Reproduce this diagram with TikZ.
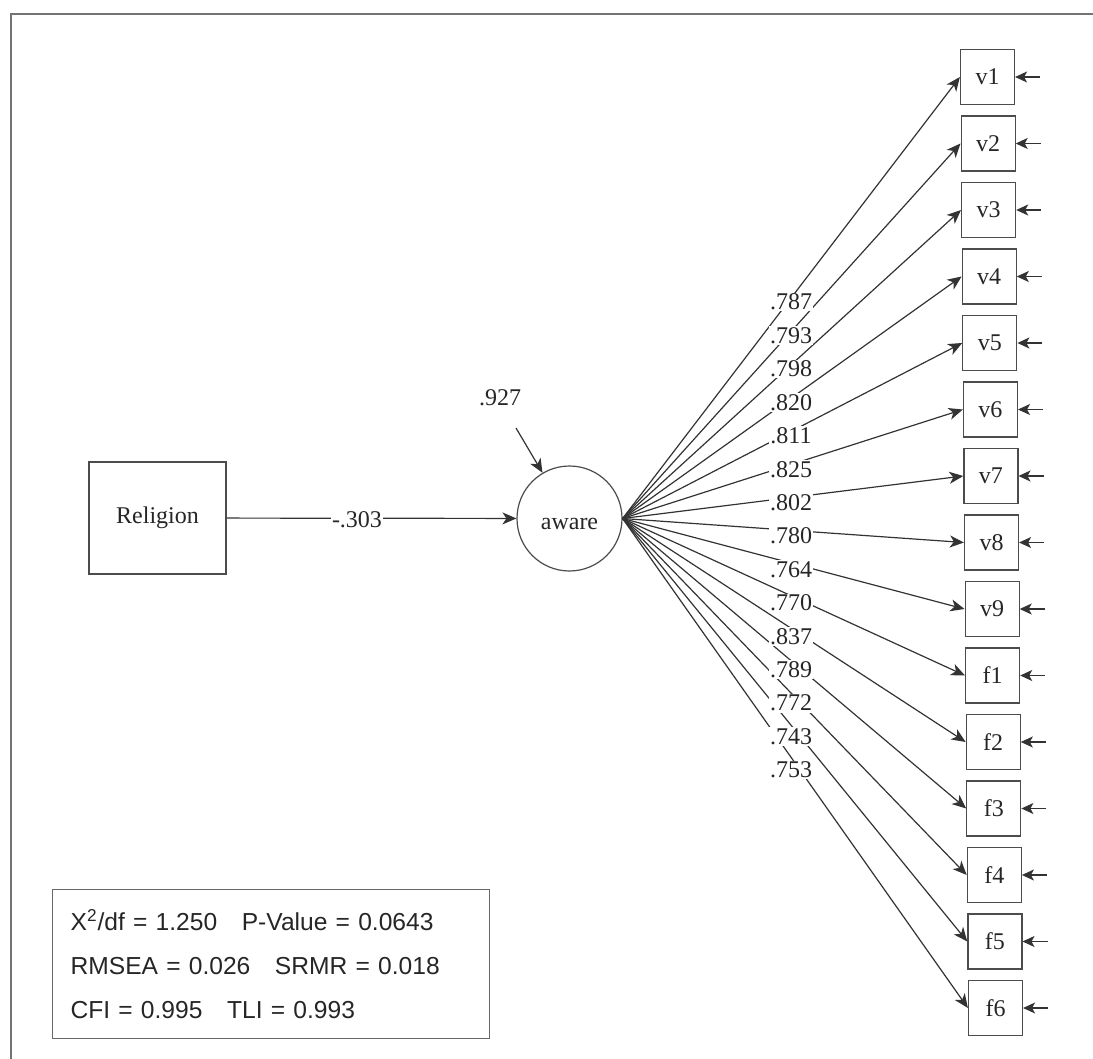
\documentclass[tikz,border=0pt]{standalone}
\usepackage{fontspec}
\setmainfont{Liberation Serif}
\setsansfont{Liberation Sans}
\usetikzlibrary{arrows.meta}

\tikzset{
  every node/.style={text=black!85, font=\fontsize{12}{14}\selectfont},
  obs/.style={draw=black!70, line width=0.6pt, minimum width=27pt, minimum height=27.5pt, inner sep=0pt},
  lat/.style={draw=black!70, line width=0.6pt, circle, minimum size=52.5pt, inner sep=0pt},
  coef/.style={fill=white, inner sep=0.6pt},
  load/.style={draw=black!80, line width=0.6pt, -{Stealth[length=7pt,width=6pt,inset=2pt]}},
  resid/.style={draw=black!80, line width=0.6pt, -{Stealth[length=6pt,width=5.5pt,inset=1.5pt]}},
  fitbox/.style={draw=black!60, line width=0.6pt, align=left, anchor=north west,
    font=\sffamily\fontsize{12.3}{22}\selectfont, text width=200.5pt,
    inner xsep=9pt, minimum height=74.5pt}
}

\begin{document}
\begin{tikzpicture}[x=0.5pt,y=-0.5pt]
      \useasboundingbox (0,0) rectangle (1093,1059);
      \draw[black!55, line width=0.7pt] (1093,14) -- (11,14) -- (11,1059);
      \draw
        (157.5,518) node[obs, minimum width=68.5pt, minimum height=56pt] (religion){Religion}
        (569.5,518.5) node[lat, text height=11pt, text depth=0pt] (aware){aware}
        (987.5,77) node[obs] (v1){v1}
        (988.1,143.5) node[obs] (v2){v2}
        (988.6,210) node[obs] (v3){v3}
        (989.2,276.5) node[obs] (v4){v4}
        (989.8,343) node[obs] (v5){v5}
        (990.4,409.5) node[obs] (v6){v6}
        (990.9,476) node[obs] (v7){v7}
        (991.5,542.5) node[obs] (v8){v8}
        (992.1,609) node[obs] (v9){v9}
        (992.6,675.5) node[obs] (f1){f1}
        (993.2,742) node[obs] (f2){f2}
        (993.8,808.5) node[obs] (f3){f3}
        (994.3,875) node[obs] (f4){f4}
        (994.9,941.5) node[obs] (f5){f5}
        (995.5,1008) node[obs] (f6){f6};
      \coordinate (z) at (516,428);
      \coordinate (e1) at ([xshift=12.5pt]v1.east);
      \coordinate (e2) at ([xshift=12.5pt]v2.east);
      \coordinate (e3) at ([xshift=12.5pt]v3.east);
      \coordinate (e4) at ([xshift=12.5pt]v4.east);
      \coordinate (e5) at ([xshift=12.5pt]v5.east);
      \coordinate (e6) at ([xshift=12.5pt]v6.east);
      \coordinate (e7) at ([xshift=12.5pt]v7.east);
      \coordinate (e8) at ([xshift=12.5pt]v8.east);
      \coordinate (e9) at ([xshift=12.5pt]v9.east);
      \coordinate (e10) at ([xshift=12.5pt]f1.east);
      \coordinate (e11) at ([xshift=12.5pt]f2.east);
      \coordinate (e12) at ([xshift=12.5pt]f3.east);
      \coordinate (e13) at ([xshift=12.5pt]f4.east);
      \coordinate (e14) at ([xshift=12.5pt]f5.east);
      \coordinate (e15) at ([xshift=12.5pt]f6.east);
      \begin{scope}[load]
        \draw (religion) to (aware);
        \draw (z) to (aware);
        \draw (aware.east) to (v1.west);
        \draw (aware.east) to (v2.west);
        \draw (aware.east) to (v3.west);
        \draw (aware.east) to (v4.west);
        \draw (aware.east) to (v5.west);
        \draw (aware.east) to (v6.west);
        \draw (aware.east) to (v7.west);
        \draw (aware.east) to (v8.west);
        \draw (aware.east) to (v9.west);
        \draw (aware.east) to (f1.west);
        \draw (aware.east) to (f2.west);
        \draw (aware.east) to (f3.west);
        \draw (aware.east) to (f4.west);
        \draw (aware.east) to (f5.west);
        \draw (aware.east) to (f6.west);
      \end{scope}
      \begin{scope}[resid]
        \draw (e1) to (v1);
        \draw (e2) to (v2);
        \draw (e3) to (v3);
        \draw (e4) to (v4);
        \draw (e5) to (v5);
        \draw (e6) to (v6);
        \draw (e7) to (v7);
        \draw (e8) to (v8);
        \draw (e9) to (v9);
        \draw (e10) to (f1);
        \draw (e11) to (f2);
        \draw (e12) to (f3);
        \draw (e13) to (f4);
        \draw (e14) to (f5);
        \draw (e15) to (f6);
      \end{scope}
      \draw
        (357,520) node[coef] (b0){-.303}
        (500,398) node (d0){.927}
        (791,302) node[coef] (b1){.787}
        (791,335.4) node[coef] (b2){.793}
        (791,368.9) node[coef] (b3){.798}
        (791,402.3) node[coef] (b4){.820}
        (791,435.7) node[coef] (b5){.811}
        (791,469.2) node[coef] (b6){.825}
        (791,502.6) node[coef] (b7){.802}
        (791,536) node[coef] (b8){.780}
        (791,569.4) node[coef] (b9){.764}
        (791,602.9) node[coef] (b10){.770}
        (791,636.3) node[coef] (b11){.837}
        (791,669.7) node[coef] (b12){.789}
        (791,703.2) node[coef] (b13){.772}
        (791,736.6) node[coef] (b14){.743}
        (791,770) node[coef] (b15){.753};
      \node[fitbox] (fit) at (52,889) {X\textsuperscript{2}/df = 1.250\quad P-Value = 0.0643\\
        RMSEA = 0.026\quad SRMR = 0.018\\
        CFI = 0.995\quad TLI = 0.993};
    \end{tikzpicture}
\end{document}
